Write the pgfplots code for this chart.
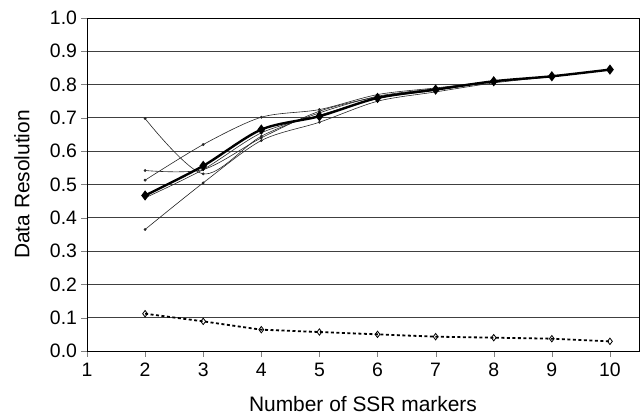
\documentclass[border=0pt]{standalone}
\usepackage{pgfplots}
\pgfplotsset{compat=1.18}
\usepackage{fontspec}
\setmainfont{Liberation Sans}
\begin{document}
\begin{tikzpicture}
\useasboundingbox (-87bp,-64bp) rectangle (554bp,351bp);
\begin{axis}[
  scale only axis,
  width=552bp, height=333bp,
  xmin=1, xmax=10.5, ymin=0, ymax=1,
  xtick={1,2,...,10},
  ytick={0,0.1,...,1.0},
  yticklabel style={/pgf/number format/fixed, /pgf/number format/fixed zerofill, /pgf/number format/precision=1, xshift=-1bp},
  /pgf/number format/assume math mode=true,
  tick label style={font=\fontsize{19.5}{19.5}\selectfont},
  xticklabel style={yshift=-3bp},
  label style={font=\fontsize{21}{21}\selectfont},
  tick align=outside, tick pos=left,
  major tick length=5.5bp,
  ymajorgrids,
  grid style={black!75, line width=0.8bp},
  axis line style={black, line width=0.9bp},
  xlabel={Number of SSR markers},
  ylabel={Data Resolution},
  xlabel style={at={(axis description cs:0.5,-0.16)}, anchor=center},
  ylabel style={at={(axis description cs:-0.118,0.5)}, anchor=center},
  clip=false,
]
% thin series (smoothed)
\addplot[black!85, line width=0.6bp, smooth, mark=*, mark size=1.1bp] coordinates {
(2,0.698) (3,0.532) (4,0.645) (5,0.715) (6,0.765) (7,0.788) (8,0.810) (9,0.825) (10,0.845)};
\addplot[black!85, line width=0.6bp, smooth, mark=*, mark size=1.1bp] coordinates {
(2,0.542) (3,0.545) (4,0.640) (5,0.720) (6,0.763) (7,0.785) (8,0.810) (9,0.825) (10,0.845)};
\addplot[black!85, line width=0.6bp, smooth, mark=*, mark size=1.1bp] coordinates {
(2,0.513) (3,0.620) (4,0.702) (5,0.725) (6,0.770) (7,0.790) (8,0.810) (9,0.825) (10,0.845)};
\addplot[black!85, line width=0.6bp, smooth, mark=*, mark size=1.1bp] coordinates {
(2,0.460) (3,0.545) (4,0.655) (5,0.708) (6,0.758) (7,0.783) (8,0.808) (9,0.825) (10,0.845)};
\addplot[black!85, line width=0.6bp, smooth, mark=*, mark size=1.1bp] coordinates {
(2,0.365) (3,0.505) (4,0.632) (5,0.687) (6,0.750) (7,0.778) (8,0.805) (9,0.824) (10,0.845)};
% thick series
\addplot[black, line width=2.4bp, smooth, mark=diamond*, mark size=3.2bp, mark options={solid}] coordinates {
(2,0.467) (3,0.556) (4,0.665) (5,0.705) (6,0.760) (7,0.785) (8,0.810) (9,0.825) (10,0.845)};
% bottom dotted series
\addplot[black, line width=1.8bp, dash pattern=on 3bp off 2.5bp, mark=diamond, mark size=3.2bp, mark options={solid, fill=white, line width=0.8bp}] coordinates {
(2,0.112) (3,0.089) (4,0.064) (5,0.057) (6,0.050) (7,0.043) (8,0.040) (9,0.037) (10,0.029)};
\end{axis}
\end{tikzpicture}
\end{document}
